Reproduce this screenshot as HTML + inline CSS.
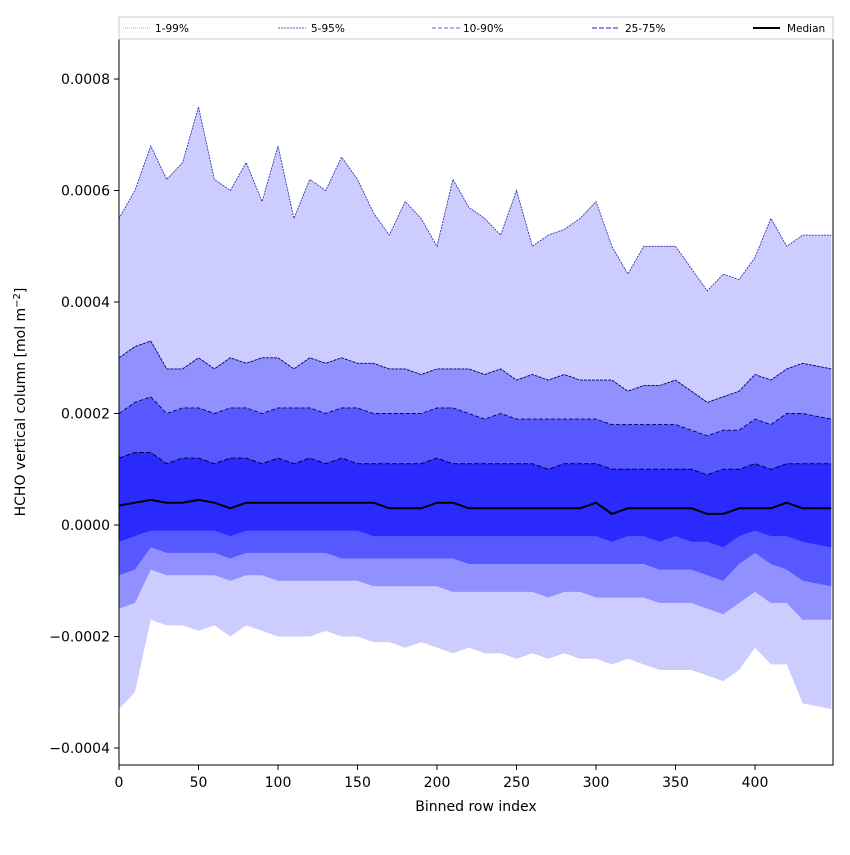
<!DOCTYPE html>
<html><head><meta charset="utf-8"><style>
body{margin:0;background:#fff}
svg text{font-family:"DejaVu Sans","Liberation Sans",sans-serif}
</style></head><body>
<svg id="chart" width="850" height="850" xmlns="http://www.w3.org/2000/svg">
<rect width="850" height="850" fill="#fff"/>
<g id="bands"></g>
<g id="lines"></g>
<rect x="119" y="39" width="714" height="726" fill="none" stroke="#000" stroke-width="1"/>
<g id="axes"></g>
<text x="476" y="811" text-anchor="middle" font-size="14">Binned row index</text>
<text transform="translate(25,402) rotate(-90)" text-anchor="middle" font-size="14">HCHO vertical column [mol m<tspan baseline-shift="super" font-size="10">−2</tspan>]</text>
<g>
<rect x="119" y="17" width="714" height="22" fill="#fff" stroke="#ccc"/>
<line x1="123" y1="28" x2="150" y2="28" stroke="#aaaaee" stroke-width="1" stroke-dasharray="1,1"/>
<text x="155" y="32" font-size="10.5">1-99%</text>
<line x1="278" y1="28" x2="306" y2="28" stroke="#6666aa" stroke-width="1" stroke-dasharray="2,1"/>
<text x="311" y="32" font-size="10.5">5-95%</text>
<line x1="432" y1="28" x2="460" y2="28" stroke="#6666cc" stroke-width="1" stroke-dasharray="4,2"/>
<text x="463" y="32" font-size="10.5">10-90%</text>
<line x1="592" y1="28" x2="620" y2="28" stroke="#4444ff" stroke-width="1.2" stroke-dasharray="5,2"/>
<text x="625" y="32" font-size="10.5">25-75%</text>
<line x1="753" y1="28" x2="780" y2="28" stroke="#000" stroke-width="2"/>
<text x="787" y="32" font-size="10.5">Median</text>
</g>
</svg>
<script>
const xIdx=[0,10,20,30,40,50,60,70,80,90,100,110,120,130,140,150,160,170,180,190,200,210,220,230,240,250,260,270,280,290,300,310,320,330,340,350,360,370,380,390,400,410,420,430,448];
const p99=[0.00055,0.00060,0.00068,0.00062,0.00065,0.00075,0.00062,0.00060,0.00065,0.00058,0.00068,0.00055,0.00062,0.00060,0.00066,0.00062,0.00056,0.00052,0.00058,0.00055,0.00050,0.00062,0.00057,0.00055,0.00052,0.00060,0.00050,0.00052,0.00053,0.00055,0.00058,0.00050,0.00045,0.00050,0.00050,0.00050,0.00046,0.00042,0.00045,0.00044,0.00048,0.00055,0.00050,0.00052,0.00052];
const p95=[0.00030,0.00032,0.00033,0.00028,0.00028,0.00030,0.00028,0.00030,0.00029,0.00030,0.00030,0.00028,0.00030,0.00029,0.00030,0.00029,0.00029,0.00028,0.00028,0.00027,0.00028,0.00028,0.00028,0.00027,0.00028,0.00026,0.00027,0.00026,0.00027,0.00026,0.00026,0.00026,0.00024,0.00025,0.00025,0.00026,0.00024,0.00022,0.00023,0.00024,0.00027,0.00026,0.00028,0.00029,0.00028];
const p90=[0.00020,0.00022,0.00023,0.00020,0.00021,0.00021,0.00020,0.00021,0.00021,0.00020,0.00021,0.00021,0.00021,0.00020,0.00021,0.00021,0.00020,0.00020,0.00020,0.00020,0.00021,0.00021,0.00020,0.00019,0.00020,0.00019,0.00019,0.00019,0.00019,0.00019,0.00019,0.00018,0.00018,0.00018,0.00018,0.00018,0.00017,0.00016,0.00017,0.00017,0.00019,0.00018,0.00020,0.00020,0.00019];
const p75=[0.00012,0.00013,0.00013,0.00011,0.00012,0.00012,0.00011,0.00012,0.00012,0.00011,0.00012,0.00011,0.00012,0.00011,0.00012,0.00011,0.00011,0.00011,0.00011,0.00011,0.00012,0.00011,0.00011,0.00011,0.00011,0.00011,0.00011,0.00010,0.00011,0.00011,0.00011,0.00010,0.00010,0.00010,0.00010,0.00010,0.00010,0.00009,0.00010,0.00010,0.00011,0.00010,0.00011,0.00011,0.00011];
const median=[0.000035,0.00004,0.000045,0.00004,0.00004,0.000045,0.00004,0.00003,0.00004,0.00004,0.00004,0.00004,0.00004,0.00004,0.00004,0.00004,0.00004,0.00003,0.00003,0.00003,0.00004,0.00004,0.00003,0.00003,0.00003,0.00003,0.00003,0.00003,0.00003,0.00003,0.00004,0.00002,0.00003,0.00003,0.00003,0.00003,0.00003,0.00002,0.00002,0.00003,0.00003,0.00003,0.00004,0.00003,0.00003];
const p25=[-0.00003,-0.00002,-0.00001,-0.00001,-0.00001,-0.00001,-0.00001,-0.00002,-0.00001,-0.00001,-0.00001,-0.00001,-0.00001,-0.00001,-0.00001,-0.00001,-0.00002,-0.00002,-0.00002,-0.00002,-0.00002,-0.00002,-0.00002,-0.00002,-0.00002,-0.00002,-0.00002,-0.00002,-0.00002,-0.00002,-0.00002,-0.00003,-0.00002,-0.00002,-0.00003,-0.00002,-0.00003,-0.00003,-0.00004,-0.00002,-0.00001,-0.00002,-0.00002,-0.00003,-0.00004];
const p10=[-0.00009,-0.00008,-0.00004,-0.00005,-0.00005,-0.00005,-0.00005,-0.00006,-0.00005,-0.00005,-0.00005,-0.00005,-0.00005,-0.00005,-0.00006,-0.00006,-0.00006,-0.00006,-0.00006,-0.00006,-0.00006,-0.00006,-0.00007,-0.00007,-0.00007,-0.00007,-0.00007,-0.00007,-0.00007,-0.00007,-0.00007,-0.00007,-0.00007,-0.00007,-0.00008,-0.00008,-0.00008,-0.00009,-0.00010,-0.00007,-0.00005,-0.00007,-0.00008,-0.00010,-0.00011];
const p5=[-0.00015,-0.00014,-0.00008,-0.00009,-0.00009,-0.00009,-0.00009,-0.00010,-0.00009,-0.00009,-0.00010,-0.00010,-0.00010,-0.00010,-0.00010,-0.00010,-0.00011,-0.00011,-0.00011,-0.00011,-0.00011,-0.00012,-0.00012,-0.00012,-0.00012,-0.00012,-0.00012,-0.00013,-0.00012,-0.00012,-0.00013,-0.00013,-0.00013,-0.00013,-0.00014,-0.00014,-0.00014,-0.00015,-0.00016,-0.00014,-0.00012,-0.00014,-0.00014,-0.00017,-0.00017];
const p1=[-0.00033,-0.00030,-0.00017,-0.00018,-0.00018,-0.00019,-0.00018,-0.00020,-0.00018,-0.00019,-0.00020,-0.00020,-0.00020,-0.00019,-0.00020,-0.00020,-0.00021,-0.00021,-0.00022,-0.00021,-0.00022,-0.00023,-0.00022,-0.00023,-0.00023,-0.00024,-0.00023,-0.00024,-0.00023,-0.00024,-0.00024,-0.00025,-0.00024,-0.00025,-0.00026,-0.00026,-0.00026,-0.00027,-0.00028,-0.00026,-0.00022,-0.00025,-0.00025,-0.00032,-0.00033];
const xTicks=[0,50,100,150,200,250,300,350,400];
const yTicks=[0.0008,0.0006,0.0004,0.0002,0,-0.0002,-0.0004];
const yTickLabels=["0.0008","0.0006","0.0004","0.0002","0.0000","−0.0002","−0.0004"];

const NS="http://www.w3.org/2000/svg";
function sx(v){return 119+v*(755-119)/400;}
function sy(v){return 525-v*557.5/0.001;}
function pts(a){return a.map((v,i)=>sx(xIdx[i]).toFixed(1)+","+sy(v).toFixed(1));}
const bands=document.getElementById('bands');
function band(lo,hi,color,name){
  const p=document.createElementNS(NS,'polygon');
  p.setAttribute('points',pts(hi).concat(pts(lo).reverse()).join(' '));
  p.setAttribute('fill',color);
  
  
  bands.appendChild(p);
}
band(p1,p99,'#ccccff','band-1-99');
band(p5,p95,'#9090ff','band-5-95');
band(p10,p90,'#5858ff','band-10-90');
band(p25,p75,'#2a2aff','band-25-75');
const lines=document.getElementById('lines');
function line(a,color,w,dash,name){
  const p=document.createElementNS(NS,'polyline');
  p.setAttribute('points',pts(a).join(' '));
  p.setAttribute('fill','none');
  p.setAttribute('stroke',color);
  p.setAttribute('stroke-width',w);
  if(dash)p.setAttribute('stroke-dasharray',dash);
  
  
  lines.appendChild(p);
}
line(p99,'#2222aa',0.8,'2,1','line-p99');
line(p95,'#000066',0.9,'3,1','line-p95');
line(p90,'#000066',0.9,'4,2','line-p90');
line(p75,'#000044',1,'5,2','line-p75');
line(median,'#000',2,null,'line-median');
const axes=document.getElementById('axes');
xTicks.forEach(t=>{
  const l=document.createElementNS(NS,'line');
  l.setAttribute('x1',sx(t));l.setAttribute('x2',sx(t));l.setAttribute('y1',765);l.setAttribute('y2',770);l.setAttribute('stroke','#000');
  
  
  axes.appendChild(l);
  const tx=document.createElementNS(NS,'text');
  tx.setAttribute('x',sx(t));tx.setAttribute('y',787);tx.setAttribute('text-anchor','middle');tx.setAttribute('font-size','14');
  tx.textContent=t;
  
  
  axes.appendChild(tx);
});
yTicks.forEach((t,i)=>{
  const l=document.createElementNS(NS,'line');
  l.setAttribute('x1',114);l.setAttribute('x2',119);l.setAttribute('y1',sy(t));l.setAttribute('y2',sy(t));l.setAttribute('stroke','#000');
  
  
  axes.appendChild(l);
  const tx=document.createElementNS(NS,'text');
  tx.setAttribute('x',110);tx.setAttribute('y',sy(t)+5);tx.setAttribute('text-anchor','end');tx.setAttribute('font-size','14');
  tx.textContent=yTickLabels[i];
  
  
  axes.appendChild(tx);
});
</script>
</body></html>
